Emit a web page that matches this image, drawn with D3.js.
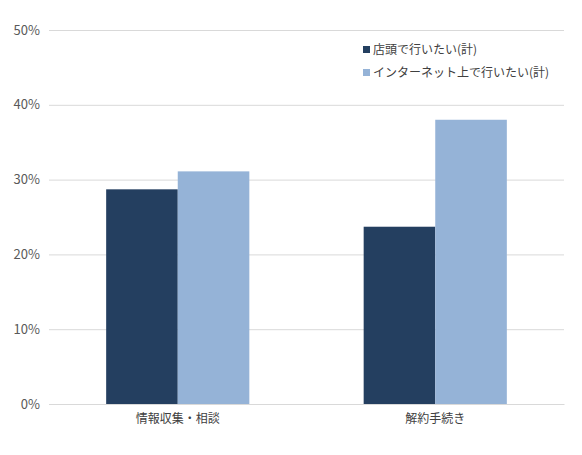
<!DOCTYPE html>
<html><head><meta charset="utf-8">
<script src="https://cdn.jsdelivr.net/npm/d3@7"></script>
<style>body{margin:0;background:#fff}text{font-family:"Noto Sans CJK JP","Noto Sans",sans-serif}</style>
</head><body><svg></svg>
<script>
var categories = ["情報収集・相談", "解約手続き"]
var seriesNames = ["店頭で行いたい(計)", "インターネット上で行いたい(計)"]
var store = [28.7, 31.1].slice(0, 0).concat([28.7, 23.7])
var online = [31.1, 38.0]
var yTicks = [0, 10, 20, 30, 40, 50]
var colors = ["#243F60", "#95B3D7"]

var svgWidth = 582, svgHeight = 455;
var margin = { top: 30, right: 18, bottom: 51, left: 49 };
var width = svgWidth - margin.left - margin.right;
var height = svgHeight - margin.top - margin.bottom;

var svg = d3.select("svg").attr("width", svgWidth).attr("height", svgHeight);
var g = svg.append("g").attr("transform", "translate(" + margin.left + "," + margin.top + ")");

var x = d3.scaleBand().domain(categories).range([0, width]);
var x1 = d3.scaleBand().domain([0, 1]).range([0, x.bandwidth() * 0.556]);
var y = d3.scaleLinear().domain([0, 50]).range([height, 0]);

g.append("g")
    .call(d3.axisLeft(y).tickValues(yTicks).tickSize(-width).tickFormat(function (d) { return d + "%" }))
    .call(function (a) {
        a.select(".domain").remove();
        a.selectAll("line").attr("stroke", "#d9d9d9");
        a.selectAll("text").attr("x", -9).attr("fill", "#595959").attr("font-size", 13);
    });

var data = categories.map(function (c, i) { return [store[i], online[i]] });
var groups = g.selectAll(".grp").data(data).enter().append("g")
    .attr("transform", function (d, i) { return "translate(" + (x(categories[i]) + x.bandwidth() * 0.222) + ",0)" });
groups.selectAll("rect").data(function (d) { return d }).enter().append("rect")
    .attr("x", function (d, j) { return x1(j) })
    .attr("width", x1.bandwidth())
    .attr("y", function (d) { return y(d) })
    .attr("height", function (d) { return height - y(d) })
    .attr("fill", function (d, j) { return colors[j] });

g.append("g").attr("transform", "translate(0," + height + ")")
    .call(d3.axisBottom(x).tickSize(0))
    .call(function (a) {
        a.select(".domain").attr("stroke", "#d9d9d9");
        a.selectAll("text").attr("dy", "1.3em").attr("fill", "#404040").attr("font-size", 12);
    });

var legend = svg.append("g").attr("transform", "translate(363,44)");
seriesNames.forEach(function (n, i) {
    var row = legend.append("g").attr("transform", "translate(0," + i * 23 + ")");
    row.append("rect").attr("width", 7).attr("height", 7).attr("y", 2).attr("fill", colors[i]);
    row.append("text").attr("x", 10).attr("y", 10).attr("font-size", 12).attr("fill", "#404040").text(n);
});
</script></body></html>
